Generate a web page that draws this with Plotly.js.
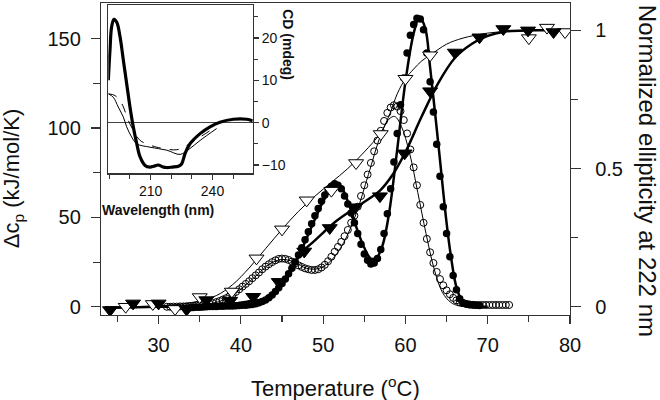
<!DOCTYPE html>
<html>
<head>
<meta charset="utf-8">
<script src="https://cdn.plot.ly/plotly-3.0.1.min.js"></script>
<style>html,body{margin:0;padding:0;background:#fff;}#chart{width:660px;height:400px;}</style>
</head>
<body>
<div id="chart"></div>
<script>
// ---- DSC, filled circles (left axis) ----
const tFilled = [33.8,34.2,34.6,35.0,35.4,35.8,36.2,36.6,37.0,37.4,37.8,38.2,38.6,39.0,39.4,39.8,40.2,40.6,41.0,41.4,41.8,42.2,42.6,43.0,43.4,43.8,44.2,44.6,45.0,45.4,45.8,46.2,46.6,47.0,47.4,47.8,48.2,48.6,49.0,49.4,49.8,50.2,50.6,51.0,51.4,51.8,52.2,52.6,53.0,53.4,53.8,54.2,54.6,55.0,55.4,55.8,56.2,56.6,57.0,57.4,57.8,58.2,58.6,59.0,59.4,59.8,60.2,60.6,61.0,61.4,61.8,62.2,62.6,63.0,63.4,63.8,64.2,64.6,65.0,65.4,65.8,66.2,66.6,67.0,67.4,67.8,68.2,68.6,69.0];
const cpFilled = [-0.5,-0.4,-0.3,-0.2,-0.1,0,0.1,0.1,0.2,0.3,0.3,0.4,0.5,0.5,0.6,0.7,0.8,0.9,1.1,1.3,1.7,2.2,2.9,3.8,5.0,6.6,8.5,10.6,13,15.5,18.5,21.5,25,29,33,37.5,42,46.5,51,55,59,62.5,65.5,67.5,68.8,68,66,62,57.5,52.5,47,41,35,29.5,26,24,24.5,27,32,41,52,66,81,97,113,128,142,152,158,161.5,161,155,142,126,109,91,73,56,41,28,17.5,9.5,4.5,2.3,1.5,1.2,1,0.8,0.7];
const tFilledFit = [30,36,40,42,43,44,45,46,47,48,49,50,51,51.6,52.3,53,54,55,55.8,56.5,57.2,58,59,60,61,61.7,62.4,63,64,65,65.6,66.2,67,68,70];
const cpFilledFit = [0,0.2,0.7,1.8,3.3,6.5,12,19,28,38.5,49,59,66,68,66,59,45,33,27,27.5,34,52,88,126,153,162,156,134,91,47,26,11,2.5,0.5,0];

// ---- DSC, open circles (left axis) ----
const tOpen = [31.0,31.4,31.8,32.2,32.6,33.0,33.4,33.8,34.2,34.6,35.0,35.4,35.8,36.2,36.6,37.0,37.4,37.8,38.2,38.6,39.0,39.4,39.8,40.2,40.6,41.0,41.4,41.8,42.2,42.6,43.0,43.4,43.8,44.2,44.6,45.0,45.4,45.8,46.2,46.6,47.0,47.4,47.8,48.2,48.6,49.0,49.4,49.8,50.2,50.6,51.0,51.4,51.8,52.2,52.6,53.0,53.4,53.8,54.2,54.6,55.0,55.4,55.8,56.2,56.6,57.0,57.4,57.8,58.2,58.6,59.0,59.4,59.8,60.2,60.6,61.0,61.4,61.8,62.2,62.6,63.0,63.4,63.8,64.2,64.6,65.0,65.4,65.8,66.2,66.6,67.0,67.4,67.8,68.2,68.6,69.0,69.4,69.8,70.2,70.6,71.0,71.4,71.8,72.2,72.6];
const cpOpen = [0,0,0.1,0.1,0.2,0.2,0.3,0.4,0.5,0.6,0.8,1.0,1.3,1.6,2.0,2.6,3.2,4.0,4.8,5.8,7.0,8.3,9.8,11.3,12.8,14.3,16.0,17.6,19.2,21,22.5,23.8,25,26,26.8,27,26.8,26.2,25.3,24.3,23.2,22.3,21.5,21,20.6,20.6,21,22,23.5,25.5,28,30.8,33.5,36.3,39.5,43,47,51,56,62,68,74,80.5,87,93,98.5,104,108.5,111.5,112.8,112,109.5,104.5,97,88,78,68,57,47,38,30.5,24.5,19.5,15.5,12,9.2,7,5,3.6,2.6,2,1.6,1.3,1.1,1,1,1,1,1,1,1,1,1,1,1];
const tOpenFit = [30,35,38,40,42,43.5,45,46.5,48,49.5,51,52.5,54,55.5,57,58,58.7,59.5,60.5,61.5,62.5,63.5,64.5,65.5,66.5,68];
const cpOpenFit = [0,0.8,4,10,18,24,26.5,25,21.5,21.5,26,36,52,74,96,105,106.5,101,86,64,41,21,8,2.5,0.5,0];

// ---- CD at 222 nm, open triangles (right axis) ----
const tOpenTri = [26.0,29.3,32.0,35.0,38.9,41.9,45.0,48.0,51.0,54.0,57.0,60.0,63.0,75.0,77.2,79.4];
const cdOpenTri = [0.0,0.01,-0.008,0.035,0.055,0.175,0.28,0.385,0.42,0.52,0.625,0.825,0.91,0.972,1.01,0.994];
const tOpenTriFit = [23.5,30,34,37,39,41,43,45,47,49,51,53,55,57,58,59,60,61,62,63,65,67,70,74,80];
const cdOpenTriFit = [0,0.003,0.015,0.04,0.08,0.14,0.21,0.28,0.345,0.40,0.45,0.50,0.56,0.63,0.69,0.77,0.825,0.86,0.89,0.91,0.95,0.972,0.99,0.998,1.0];

// ---- CD at 222 nm, filled triangles (right axis) ----
const tFilledTri = [24.1,26.9,30.0,33.4,35.8,38.7,41.5,44.6,47.7,50.8,53.9,56.9,59.9,63.0,66.0,69.0,71.9,74.9,78.0];
const cdFilledTri = [-0.012,0.012,0.012,-0.01,0.024,0.022,0.036,0.09,0.2,0.285,0.36,0.40,0.555,0.78,0.92,0.975,1.005,1.0,0.994];
const tFilledTriFit = [23.5,30,35,39,41,43,44.7,46,47.2,49,51.6,54,56.9,58.5,60,62,64,66,68,70,72,75,80];
const cdFilledTriFit = [-0.005,0,0.005,0.01,0.02,0.03,0.08,0.13,0.19,0.24,0.31,0.36,0.42,0.48,0.56,0.69,0.81,0.9,0.95,0.98,0.995,1.0,1.0];

// ---- Inset: CD spectra ----
const wlThick = [189.5,190.3,191.1,192.2,193.6,195.2,196.8,198.4,200.0,201.6,203.3,204.9,207.3,209.7,211.5,213.7,215.7,217.8,220.5,223.5,225.1,226.7,229.1,234.0,238.8,243.6,250.1,256.6,259.5];
const cdThick = [10.0,17.1,22.6,24.4,23.7,20.2,14.7,9.2,3.7,-1.0,-5.0,-8.1,-10.1,-10.5,-10.3,-10.0,-10.4,-10.6,-10.5,-10.3,-9.7,-7.3,-5.0,-2.6,-1.0,0.1,0.8,0.8,0.4];
const wlThin = [189.5,191.9,194.3,196.8,198.4,200.8,203.3,209.7,217.8,224.3,229.1,234.0,242.0];
const cdThin = [6.8,6.0,3.7,1.3,-1.0,-3.4,-5.0,-5.8,-6.5,-7.5,-6.1,-4.2,-1.4];
const wlDash = [189.5,192.7,196.0,199.2,201.6,204.9,208.1,213.0,222.7,227.5,234.0,240.4,242.0];
const cdDash = [6.8,6.4,4.5,0.5,-1.8,-4.2,-5.0,-5.8,-6.4,-5.4,-3.4,-1.4,-0.9];

const FONT = 'Liberation Sans, Arial, Helvetica, sans-serif';
const AX = '#333';

const traces = [
  {x: tOpen, y: cpOpen, mode: 'markers', xaxis: 'x', yaxis: 'y',
   marker: {symbol: 'circle-open', size: 7, color: '#000', line: {width: 1, color: '#000'}}},
  {x: tOpenFit, y: cpOpenFit, mode: 'lines', xaxis: 'x', yaxis: 'y',
   line: {color: '#000', width: 1, shape: 'spline'}},
  {x: tFilled, y: cpFilled, mode: 'markers', xaxis: 'x', yaxis: 'y',
   marker: {symbol: 'circle', size: 7.5, color: '#000'}},
  {x: tFilledFit, y: cpFilledFit, mode: 'lines', xaxis: 'x', yaxis: 'y',
   line: {color: '#000', width: 2.5, shape: 'spline'}},
  {x: tOpenTriFit, y: cdOpenTriFit, mode: 'lines', xaxis: 'x', yaxis: 'y2',
   line: {color: '#000', width: 1, shape: 'spline'}},
  {x: tFilledTriFit, y: cdFilledTriFit, mode: 'lines', xaxis: 'x', yaxis: 'y2',
   line: {color: '#000', width: 2.5, shape: 'spline'}},
  {x: tOpenTri, y: cdOpenTri, mode: 'markers', xaxis: 'x', yaxis: 'y2',
   marker: {symbol: 'triangle-down', size: 13, color: '#fff', line: {width: 1, color: '#000'}}},
  {x: tFilledTri, y: cdFilledTri, mode: 'markers', xaxis: 'x', yaxis: 'y2',
   marker: {symbol: 'triangle-down', size: 13, color: '#000', line: {width: 1, color: '#000'}}},
  // inset
  {x: wlThin, y: cdThin, mode: 'lines', xaxis: 'x3', yaxis: 'y3',
   line: {color: '#000', width: 1, shape: 'spline'}},
  {x: wlDash, y: cdDash, mode: 'lines', xaxis: 'x3', yaxis: 'y3',
   line: {color: '#000', width: 1, dash: 'dash', shape: 'spline'}},
  {x: wlThick, y: cdThick, mode: 'lines', xaxis: 'x3', yaxis: 'y3',
   line: {color: '#000', width: 3.2, shape: 'spline'}}
];

const tickCommon = {showline: true, linecolor: AX, linewidth: 1.2, ticks: 'outside', tickcolor: AX,
  tickwidth: 1.2, showgrid: false, zeroline: false};

const layout = {
  width: 660, height: 400,
  margin: {l: 101, r: 90, t: 3, b: 85},
  paper_bgcolor: '#fff', plot_bgcolor: 'rgba(0,0,0,0)',
  showlegend: false,
  font: {family: FONT, color: '#111', size: 20},
  xaxis: Object.assign({}, tickCommon, {
    domain: [0, 1], range: [23, 80], tickmode: 'linear', tick0: 0, dtick: 10, ticklen: 8,
    mirror: true, anchor: 'y', tickfont: {size: 20}, ticklabelstandoff: 4,
    minor: {dtick: 5, tick0: 0, ticks: 'outside', ticklen: 6, tickcolor: AX, tickwidth: 1.2}
  }),
  yaxis: Object.assign({}, tickCommon, {
    range: [-4.6, 170], tickmode: 'linear', tick0: 0, dtick: 50, ticklen: 9,
    anchor: 'x', tickfont: {size: 20}, ticklabelstandoff: 6,
    minor: {dtick: 25, tick0: 0, ticks: 'outside', ticklen: 7, tickcolor: AX, tickwidth: 1.2}
  }),
  yaxis2: Object.assign({}, tickCommon, {
    overlaying: 'y', side: 'right', anchor: 'x', range: [-0.03, 1.099],
    tickvals: [0, 0.5, 1], ticktext: ['0', '0.5', '1'], ticklen: 10,
    tickfont: {size: 20}, ticklabelstandoff: 10,
    minor: {tickvals: [0.25, 0.75], ticks: 'outside', ticklen: 7, tickcolor: AX, tickwidth: 1.2}
  }),
  xaxis3: Object.assign({}, tickCommon, {
    domain: [0.0156, 0.3235], anchor: 'y3', range: [189.5, 259.5],
    tickvals: [210, 240], ticklen: 5, mirror: true, tickfont: {size: 14},
    minor: {tickvals: [190, 200, 220, 230, 250], ticks: 'outside', ticklen: 4, tickcolor: AX, tickwidth: 1}
  }),
  yaxis3: Object.assign({}, tickCommon, {
    domain: [0.4537, 0.9926], anchor: 'x3', side: 'right', range: [-12, 27.7],
    tickvals: [-10, 0, 10, 20], ticklen: 5, mirror: true, tickfont: {size: 14},
    zeroline: true, zerolinecolor: '#444', zerolinewidth: 1,
    minor: {tickvals: [-5, 5, 15, 25], ticks: 'outside', ticklen: 4, tickcolor: AX, tickwidth: 1}
  }),
  annotations: [
    {text: 'Δc<sub>p</sub> (kJ/mol/K)', xref: 'paper', yref: 'paper', x: -0.1876, y: 0.4355,
     textangle: -90, showarrow: false, xanchor: 'center', yanchor: 'middle', font: {size: 22, family: FONT, color: '#111'}},
    {text: 'Normalized ellipticity at 222 nm', xref: 'paper', yref: 'paper', x: 1.1642, y: 0.462,
     textangle: 90, showarrow: false, xanchor: 'center', yanchor: 'middle', font: {size: 24, family: FONT, color: '#111'}},
    {text: 'Temperature (<sup>o</sup>C)', xref: 'paper', yref: 'paper', x: 0.5, y: -0.2305,
     showarrow: false, xanchor: 'center', yanchor: 'middle', font: {size: 22, family: FONT, color: '#111'}},
    {text: '<b>Wavelength (nm)</b>', xref: 'paper', yref: 'paper', x: 0.1216, y: 0.3362,
     showarrow: false, xanchor: 'center', yanchor: 'middle', font: {size: 14, family: FONT, color: '#111'}},
    {text: '<b>CD (mdeg)</b>', xref: 'paper', yref: 'paper', x: 0.3987, y: 0.8646,
     textangle: 90, showarrow: false, xanchor: 'center', yanchor: 'middle', font: {size: 14, family: FONT, color: '#111'}}
  ]
};

Plotly.newPlot('chart', traces, layout, {displayModeBar: false, staticPlot: true});
</script>
</body>
</html>
